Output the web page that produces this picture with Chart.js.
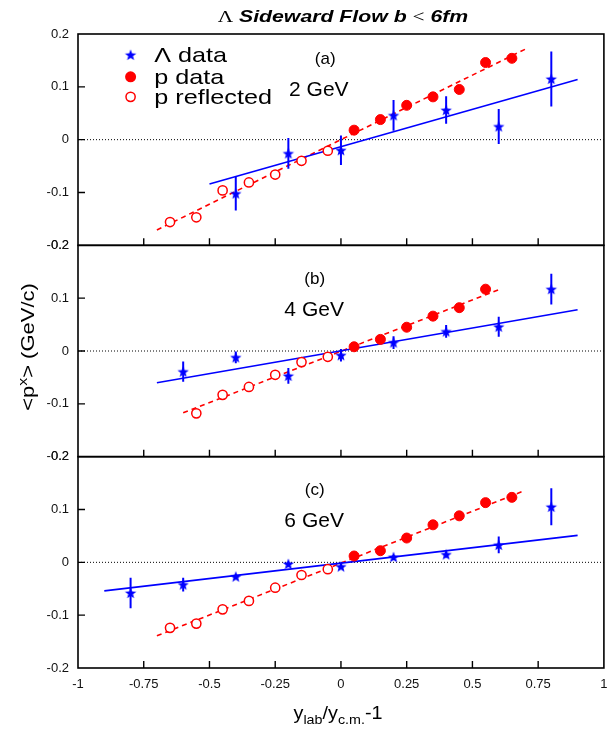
<!DOCTYPE html>
<html>
<head>
<meta charset="utf-8">
<script src="https://cdn.jsdelivr.net/npm/chart.js@4.4.0/dist/chart.umd.min.js"></script>
<style>
  html, body { margin: 0; padding: 0; background: #fff; }
  #wrap { position: relative; width: 610px; height: 730px; }
</style>
</head>
<body>
<div id="wrap"><canvas id="flowChart" width="610" height="730"></canvas></div>
<script>
// ---- data ----
const xTicks = [-1, -0.75, -0.5, -0.25, 0, 0.25, 0.5, 0.75, 1];
const yTicks = [-0.2, -0.1, 0, 0.1, 0.2];

const protonX = [0.05, 0.15, 0.25, 0.35, 0.45, 0.55, 0.65];
const reflX = [-0.05, -0.15, -0.25, -0.35, -0.45, -0.55, -0.65];

// (a) 2 GeV
const lambdaXA = [-0.4, -0.2, 0, 0.2, 0.4, 0.6, 0.8];
const lambdaYA = [-0.102, -0.026, -0.020, 0.046, 0.056, 0.025, 0.115];
const lambdaErrA = [0.032, 0.029, 0.028, 0.029, 0.026, 0.033, 0.052];
const protonYA = [0.018, 0.038, 0.065, 0.081, 0.095, 0.146, 0.154];
const reflYA = [-0.021, -0.040, -0.066, -0.081, -0.096, -0.147, -0.156];
const lambdaFitA = [[-0.5, -0.084], [0.9, 0.114]];
const protonFitA = [[-0.7, -0.171], [0.7, 0.171]];

// (b) 4 GeV
const lambdaXB = [-0.6, -0.4, -0.2, 0, 0.2, 0.4, 0.6, 0.8];
const lambdaYB = [-0.039, -0.012, -0.047, -0.008, 0.016, 0.037, 0.046, 0.117];
const lambdaErrB = [0.019, 0.011, 0.015, 0.012, 0.012, 0.012, 0.019, 0.029];
const protonYB = [0.008, 0.022, 0.045, 0.066, 0.082, 0.117];
const reflYB = [-0.011, -0.021, -0.045, -0.068, -0.083, -0.118];
const lambdaFitB = [[-0.7, -0.060], [0.9, 0.078]];
const protonFitB = [[-0.6, -0.117], [0.6, 0.116]];

// (c) 6 GeV
const lambdaXC = [-0.8, -0.6, -0.4, -0.2, 0, 0.2, 0.4, 0.6, 0.8];
const lambdaYC = [-0.058, -0.042, -0.027, -0.003, -0.008, 0.010, 0.015, 0.033, 0.105];
const lambdaErrC = [0.029, 0.013, 0.004, 0.004, 0.004, 0.004, 0.006, 0.016, 0.035];
const protonYC = [0.012, 0.022, 0.046, 0.071, 0.088, 0.113, 0.123];
const reflYC = [-0.013, -0.024, -0.048, -0.073, -0.089, -0.116, -0.124];
const lambdaFitC = [[-0.9, -0.054], [0.9, 0.051]];
const protonFitC = [[-0.7, -0.139], [0.7, 0.136]];

const panelLabels = ['(a)', '(b)', '(c)'];
const energyLabels = ['2 GeV', '4 GeV', '6 GeV'];
const legendLabels = ['data', 'p data', 'p reflected'];

const BLUE = '#0000ff';
const RED = '#ff0000';
const SANS = '"Liberation Sans", Arial, sans-serif';

Chart.defaults.font.family = SANS;
Chart.defaults.font.size = 13;
Chart.defaults.color = '#111';

// filled five-point star used as the Lambda marker
function makeStar(r, color) {
    const c = document.createElement('canvas');
    const size = Math.ceil(r * 2 + 2);
    c.width = size; c.height = size;
    const g = c.getContext('2d');
    g.fillStyle = color;
    g.beginPath();
    for (let i = 0; i < 10; i++) {
        const rad = i % 2 === 0 ? r : r * 0.42;
        const ang = -Math.PI / 2 + i * Math.PI / 5;
        const px = size / 2 + rad * Math.cos(ang);
        const py = size / 2 + 0.5 + rad * Math.sin(ang);
        if (i === 0) g.moveTo(px, py); else g.lineTo(px, py);
    }
    g.closePath();
    g.fill();
    return c;
}
const starImg = makeStar(6, BLUE);

const zip = (xs, ys) => xs.map((x, i) => ({ x, y: ys[i] }));
const seg = pts => pts.map(p => ({ x: p[0], y: p[1] }));
function errorBars(xs, ys, errs) {
    const pts = [];
    xs.forEach((x, i) => {
        pts.push({ x, y: ys[i] - errs[i] }, { x, y: ys[i] + errs[i] }, { x, y: null });
    });
    return pts;
}

function panelDatasets(axis, lx, ly, lerr, py, ry, lfit, pfit) {
    return [
        { yAxisID: axis, data: zip(lx, ly), pointStyle: starImg, pointRadius: 5, order: 1 },
        { yAxisID: axis, data: zip(protonX.slice(0, py.length), py), pointRadius: 5, borderWidth: 1,
          backgroundColor: RED, borderColor: RED, order: 2 },
        { yAxisID: axis, data: zip(reflX.slice(0, ry.length), ry), pointRadius: 4.6, borderWidth: 1.5,
          backgroundColor: '#fff', borderColor: RED, order: 3 },
        { yAxisID: axis, data: errorBars(lx, ly, lerr), showLine: true, spanGaps: false, pointRadius: 0,
          borderColor: BLUE, borderWidth: 2, order: 4 },
        { yAxisID: axis, data: seg(lfit), showLine: true, pointRadius: 0, borderColor: BLUE, borderWidth: 1.6, order: 5 },
        { yAxisID: axis, data: seg(pfit), showLine: true, pointRadius: 0, borderColor: RED, borderWidth: 1.6,
          borderDash: [5, 4], order: 6 },
        { yAxisID: axis, data: [{ x: -1, y: 0 }, { x: 1, y: 0 }], showLine: true, pointRadius: 0,
          borderColor: '#000', borderWidth: 1, borderDash: [1, 2], order: 7 }
    ];
}

const fmt = v => {
    const r = Math.round(v * 100) / 100;
    return r === 0 ? '0' : String(r);
};

function yScale(weight) {
    return {
        type: 'linear', position: 'left', stack: 'panels', stackWeight: 1, weight,
        min: -0.2, max: 0.2,
        grid: { display: false, drawTicks: false },
        border: { display: false },
        afterBuildTicks: s => { s.ticks = yTicks.map(value => ({ value })); },
        ticks: { padding: 9, callback: fmt },
        afterFit: s => { s.width = 78; s.paddingTop = 0; s.paddingBottom = 0; }
    };
}

// draws a run of text pieces (different fonts / offsets) centred on cx
function drawRich(ctx, pieces, cx, baseline, sx) {
    let total = 0;
    pieces.forEach(p => { ctx.font = p.font; p.w = ctx.measureText(p.t).width; total += p.w; });
    ctx.save();
    ctx.translate(cx, baseline);
    ctx.scale(sx, 1);
    let x = -total / 2;
    ctx.textAlign = 'left';
    ctx.textBaseline = 'alphabetic';
    pieces.forEach(p => {
        ctx.font = p.font;
        ctx.fillText(p.t, x, p.dy || 0);
        x += p.w;
    });
    ctx.restore();
}

const decorations = {
    id: 'decorations',
    afterDraw(chart) {
        const ctx = chart.ctx;
        const xs = chart.scales.x;
        const panels = [chart.scales.ya, chart.scales.yb, chart.scales.yc];
        ctx.save();
        ctx.strokeStyle = '#000';
        ctx.fillStyle = '#000';

        panels.forEach((s, i) => {
            // frame
            ctx.lineWidth = 1.6;
            ctx.strokeRect(xs.left, s.top, xs.right - xs.left, s.bottom - s.top);
            // inward ticks
            ctx.lineWidth = 1.4;
            ctx.beginPath();
            xTicks.slice(1, -1).forEach(v => {
                const px = xs.getPixelForValue(v);
                ctx.moveTo(px, s.bottom);
                ctx.lineTo(px, s.bottom - 7);
            });
            yTicks.slice(1, -1).forEach(v => {
                const py = s.getPixelForValue(v);
                ctx.moveTo(xs.left, py);
                ctx.lineTo(xs.left + 7, py);
            });
            ctx.stroke();

            // panel tag and beam energy
            const tagY = i === 0 ? 0.152 : 0.136;
            const tagX = i === 0 ? -0.06 : -0.1;
            const enY = i === 0 ? 0.094 : 0.077;
            const enX = i === 0 ? -0.084 : -0.102;
            ctx.textAlign = 'center';
            ctx.textBaseline = 'middle';
            ctx.font = '17px ' + SANS;
            ctx.fillText(panelLabels[i], xs.getPixelForValue(tagX), s.getPixelForValue(tagY));
            ctx.font = '21px ' + SANS;
            ctx.fillText(energyLabels[i], xs.getPixelForValue(enX), s.getPixelForValue(enY));
        });

        // legend in panel (a)
        const ya = chart.scales.ya;
        const mx = xs.getPixelForValue(-0.8);
        const tx = xs.getPixelForValue(-0.71);
        const rows = [0.1605, 0.119, 0.081].map(v => ya.getPixelForValue(v));
        ctx.drawImage(starImg, mx - starImg.width / 2, rows[0] - starImg.height / 2);
        ctx.fillStyle = RED;
        ctx.beginPath(); ctx.arc(mx, rows[1], 5.5, 0, 2 * Math.PI); ctx.fill();
        ctx.strokeStyle = RED; ctx.lineWidth = 1.5;
        ctx.beginPath(); ctx.arc(mx, rows[2], 4.6, 0, 2 * Math.PI); ctx.stroke();
        ctx.fillStyle = '#000';
        ctx.textBaseline = 'middle';
        ['\u039B ' + legendLabels[0], legendLabels[1], legendLabels[2]].forEach((t, k) => {
            ctx.save();
            ctx.translate(tx, rows[k] + 1);
            ctx.scale(1.2, 1);
            ctx.textAlign = 'left';
            ctx.font = '21px ' + SANS;
            ctx.fillText(t, 0, 0);
            ctx.restore();
        });

        // title
        const cx = (xs.left + xs.right) / 2 + 2;
        drawRich(ctx, [
            { t: '\u039B', font: '17px "Liberation Serif", serif' },
            { t: ' Sideward Flow b ', font: 'italic bold 17px ' + SANS },
            { t: '<', font: '17px "Liberation Serif", serif' },
            { t: ' 6fm', font: 'italic bold 17px ' + SANS }
        ], cx, 22, 1.25);

        // x axis title
        drawRich(ctx, [
            { t: 'y', font: '18px ' + SANS },
            { t: 'lab', font: '13px ' + SANS, dy: 5 },
            { t: '/y', font: '18px ' + SANS },
            { t: 'c.m.', font: '13px ' + SANS, dy: 5 },
            { t: '-1', font: '18px ' + SANS }
        ], 338, 719, 1.1);

        // y axis title
        ctx.save();
        ctx.translate(34, 347);
        ctx.rotate(-Math.PI / 2);
        drawRich(ctx, [
            { t: '<p', font: '18px ' + SANS },
            { t: 'x', font: '13px ' + SANS, dy: -7 },
            { t: '> (GeV/c)', font: '18px ' + SANS }
        ], 0, 0, 1.22);
        ctx.restore();

        ctx.restore();
    }
};

new Chart(document.getElementById('flowChart'), {
    type: 'scatter',
    data: {
        datasets: [
            ...panelDatasets('ya', lambdaXA, lambdaYA, lambdaErrA, protonYA, reflYA, lambdaFitA, protonFitA),
            ...panelDatasets('yb', lambdaXB, lambdaYB, lambdaErrB, protonYB, reflYB, lambdaFitB, protonFitB),
            ...panelDatasets('yc', lambdaXC, lambdaYC, lambdaErrC, protonYC, reflYC, lambdaFitC, protonFitC)
        ]
    },
    options: {
        responsive: false,
        animation: false,
        devicePixelRatio: 1,
        layout: { padding: { top: 34, right: 3, left: 0, bottom: 0 } },
        plugins: { legend: { display: false }, tooltip: { enabled: false } },
        scales: {
            x: {
                type: 'linear', position: 'bottom', min: -1, max: 1,
                grid: { display: false, drawTicks: false },
                border: { display: false },
                afterBuildTicks: s => { s.ticks = xTicks.map(value => ({ value })); },
                ticks: { padding: 9, callback: fmt, maxRotation: 0, autoSkip: false },
                afterFit: s => { s.height = 62; s.paddingLeft = 0; s.paddingRight = 0; }
            },
            ya: yScale(3),
            yb: yScale(2),
            yc: yScale(1)
        }
    },
    plugins: [decorations]
});
</script>
</body>
</html>
